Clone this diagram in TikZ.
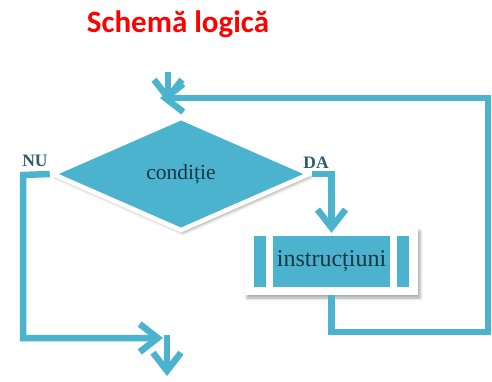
\documentclass[tikz,border=0pt]{standalone}
\usepackage{fontspec}
\setmainfont{Liberation Serif}
\newfontfamily\titlefont{Carlito}
\usetikzlibrary{shapes.geometric,arrows.meta,shadows.blur}

\definecolor{flowblue}{HTML}{4BB3CD}
\definecolor{inktext}{HTML}{1B3547}
\definecolor{branchtext}{HTML}{2F5D6B}

\tikzset{
  soft shadow/.style={blur shadow={shadow xshift=2pt, shadow yshift=-3pt,
      shadow blur radius=3pt, shadow opacity=35}},
  link/.style={draw=flowblue, line width=6.5pt},
  flow/.style={link, -{Straight Barb[length=18pt,width=28pt]}},
  decision/.style={diamond, aspect=2.3, minimum width=258pt, minimum height=114pt,
      inner sep=0pt, fill=flowblue, draw=white, line width=4.5pt, soft shadow,
      font=\fontsize{21.5}{24}\selectfont, text=inktext},
  process/.style={rectangle, minimum width=173pt, minimum height=67pt, inner sep=0pt,
      fill=white, soft shadow, font=\fontsize{24}{27}\selectfont, text=inktext,
      path picture={
        % inner band and the two side bars
        \fill[flowblue] ([shift={(-58.5pt,-25.5pt)}]path picture bounding box.center)
          rectangle ([shift={(58.5pt,25.5pt)}]path picture bounding box.center);
        \fill[flowblue] ([shift={(-77.5pt,-25.5pt)}]path picture bounding box.center)
          rectangle ([shift={(-65.5pt,25.5pt)}]path picture bounding box.center);
        \fill[flowblue] ([shift={(65.5pt,-25.5pt)}]path picture bounding box.center)
          rectangle ([shift={(77.5pt,25.5pt)}]path picture bounding box.center);
      }},
  branch/.style={font=\bfseries\fontsize{17.5}{20}\selectfont, text=branchtext, inner sep=0pt}
}

\begin{document}
\begin{tikzpicture}[x=1pt,y=1pt]
\useasboundingbox (0,0) rectangle (492,381);

% Title
\node[font=\titlefont\bfseries\fontsize{31}{36}\selectfont, text=red, anchor=base]
  (title) at (178,348) {Schemă logică};

% Blocks
\node[decision] (cond) at (181,207) {condiție};
\node[process] (instr) at (331.5,119.5) {instrucțiuni};

% Branch labels
\node[branch] (nu) at (35,220.5) {NU};
\node[branch] (da) at (316,218) {DA};

% Points of the loop
\coordinate (entry) at (168,309);
\coordinate (join) at (168,278);
\coordinate (back) at (160,283);
\coordinate (topright) at (488,283);
\coordinate (botright) at (488,49);
\coordinate (nucorner) at (23,206);
\coordinate (nuend) at (163,43);
\coordinate (exitstart) at (167,46);
\coordinate (exit) at (167,5);

% Loop back to the test
\draw[flow] (instr.south) |- (botright) -- (topright) -- (back);
\draw[flow] (entry) -- (join);

% True branch
\draw[flow] (cond.east) -| ([yshift=-5pt]instr.north);

% False branch and exit
\draw[flow] (cond.west) -- (nucorner) |- (nuend);
\draw[flow] (exitstart) -- (exit);

\end{tikzpicture}
\end{document}
